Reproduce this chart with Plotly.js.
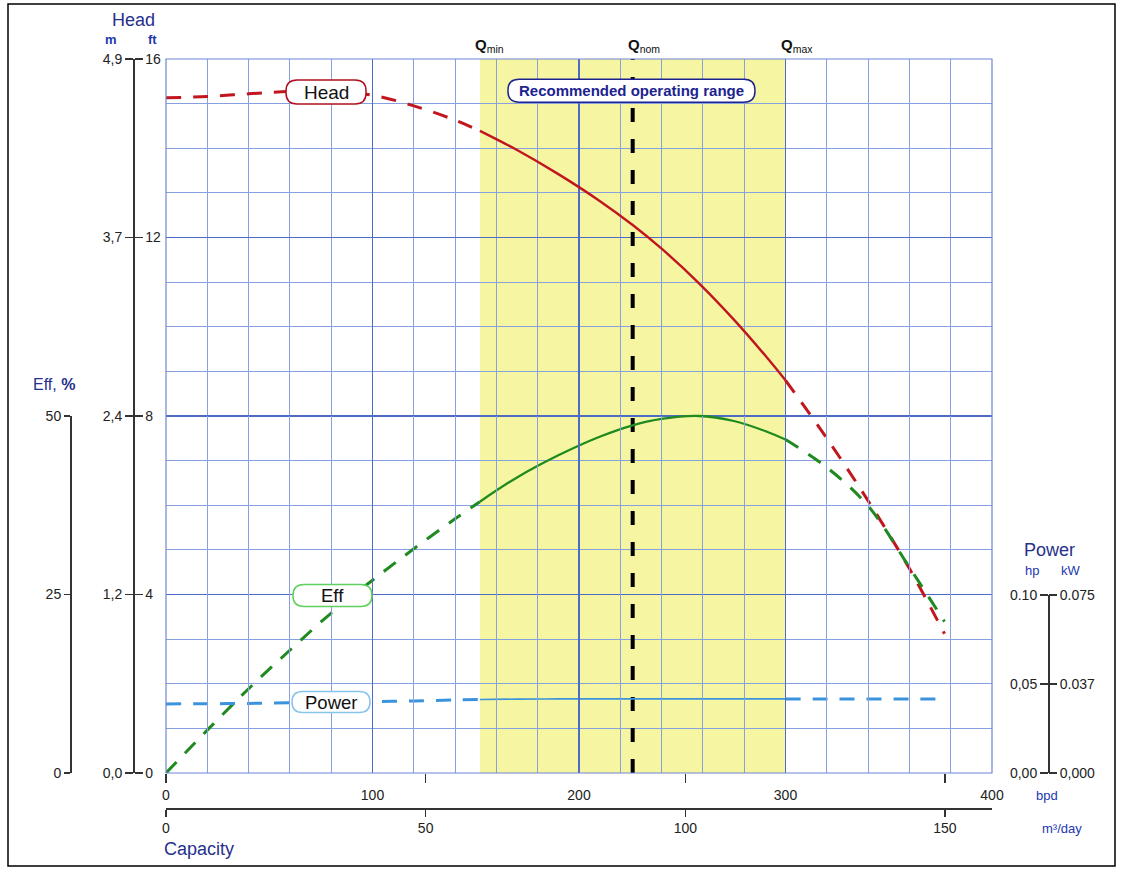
<!DOCTYPE html>
<html>
<head>
<meta charset="utf-8">
<script src="https://cdn.plot.ly/plotly-3.0.1.min.js"></script>
<style>html,body{margin:0;padding:0;background:#fff;}#chart{width:1123px;height:869px;}</style>
</head>
<body>
<div id="chart"></div>
<script>
// ---- data ----
const capacityBpd = [0,20,40,60,80,100,120,140,152,170,190,210,226,240,258,275,291,300,320,340,360,377];
const headFt      = [15.13,15.16,15.22,15.27,15.27,15.19,14.95,14.63,14.39,13.96,13.42,12.82,12.28,11.75,10.98,10.16,9.31,8.80,7.50,6.10,4.58,3.12];
const effPct      = [0,6.0,11.8,17.2,22.4,27.0,31.4,35.6,38.0,41.4,44.5,47.1,48.7,49.6,50.0,49.3,47.8,46.7,42.8,37.4,28.8,21.2];
const powerHp     = [0.0387,0.0388,0.0390,0.0393,0.0396,0.0400,0.0404,0.0409,0.0412,0.0414,0.0415,0.0415,0.0415,0.0415,0.0415,0.0415,0.0415,0.0415,0.0415,0.0415,0.0415,0.0415];
const Q_MIN = 152, Q_NOM = 226, Q_MAX = 300;
const bpdTicks = [0,100,200,300,400];
const m3Ticks = [0,50,100,150];
const ftTicks = [0,4,8,12,16];
const mTickText = ['0,0','1,2','2,4','3,7','4,9'];
const effTicks = [0,25,50];
const hpTicks = [0,0.05,0.10];
const hpTickText = ['0,00','0,05','0.10'];
const kwTickText = ['0,000','0.037','0.075'];

// ---- unit conversions ----
const FT_TO_M = 0.3048, HP_TO_KW = 0.7457;
const BPD_MAX = 400, M3_MAX = 159.06; // m3/day scale as drawn on the chart
const FT_MAX = 16, EFF_FULL = 100, HP_FULL = 0.4;

// ---- page geometry ----
const L = 20, R = 20, T = 59, B = 9, WID = 1123, HGT = 869;
const PW = WID - L - R, PH = HGT - T - B;
const px = v => (v - L) / PW;
const py = v => (HGT - B - v) / PH;

const FONT = 'Liberation Sans, Arial, Helvetica, sans-serif';
const RED = '#c2161f', GREEN = '#1f8a1f', BLUE = '#3b93db';

function seg(xs, ys, lo, hi) {
  const x = [], y = [];
  xs.forEach((v, i) => { if (v >= lo && v <= hi) { x.push(v); y.push(ys[i]); } });
  return {x, y};
}
function curve(ys, yaxis, color, name, solidW) {
  const out = [];
  const parts = [[-Infinity, Q_MIN, 'dash'], [Q_MIN, Q_MAX, 'solid'], [Q_MAX, Infinity, 'dash']];
  parts.forEach(([lo, hi, kind]) => {
    const s = seg(capacityBpd, ys, lo, hi);
    out.push({
      type: 'scatter', mode: 'lines', x: s.x, y: s.y, xaxis: 'x', yaxis: yaxis,
      name: name, showlegend: false, hoverinfo: 'skip',
      line: {color: color, width: kind === 'solid' ? solidW : 3, shape: 'spline', smoothing: 1,
             dash: kind === 'solid' ? 'solid' : '15px,12px'}
    });
  });
  return out;
}
const empty = (xa, ya) => ({type: 'scatter', mode: 'lines', x: [], y: [], xaxis: xa, yaxis: ya, showlegend: false, hoverinfo: 'skip'});

const traces = [
  ...curve(powerHp, 'y7', BLUE, 'Power', 1.6),
  ...curve(effPct, 'y3', GREEN, 'Eff', 2.3),
  ...curve(headFt, 'y', RED, 'Head', 2.4),
  {type: 'scatter', mode: 'lines', x: [Q_NOM, Q_NOM], y: [0, FT_MAX], xaxis: 'x', yaxis: 'y',
   showlegend: false, hoverinfo: 'skip', line: {color: '#000', width: 4, dash: '14px,17px'}},
  // empty traces so the display-only axes get drawn
  empty('x', 'y2'), empty('x', 'y4'), empty('x', 'y5'), empty('x', 'y6'), empty('x2', 'y'), empty('x3', 'y')
];

// rounded label boxes (pixel-sized, anchored at data positions)
function pill(cx, cy, w, h, color) {
  const a = w / 2, b = h / 2, r = Math.min(b, 11);
  const p = `M ${-a + r},${-b} L ${a - r},${-b} Q ${a},${-b} ${a},${-b + r} L ${a},${b - r} Q ${a},${b} ${a - r},${b} ` +
            `L ${-a + r},${b} Q ${-a},${b} ${-a},${b - r} L ${-a},${-b + r} Q ${-a},${-b} ${-a + r},${-b} Z`;
  return {type: 'path', xref: 'x', yref: 'y', xsizemode: 'pixel', ysizemode: 'pixel',
          xanchor: cx, yanchor: cy, path: p, fillcolor: '#fff', line: {color: color, width: 1.5}, layer: 'above'};
}

const shapes = [
  {type: 'rect', xref: 'x', yref: 'y', x0: Q_MIN, x1: Q_MAX, y0: 0, y1: FT_MAX,
   fillcolor: '#f6f6a2', line: {width: 0}, layer: 'below'},
  {type: 'rect', xref: 'x domain', yref: 'y domain', x0: 0, x1: 1, y0: 0, y1: 1,
   line: {color: '#6f86d4', width: 1.2}, layer: 'above'},
  pill(77.5, 15.26, 80, 24, '#b01020'),
  pill(80.6, 3.98, 79, 22, '#5fd05f'),
  pill(79.9, 1.59, 78, 21, '#86c4ec'),
  pill(225.4, 15.29, 247, 23, '#1c2390'),
  {type: 'rect', xref: 'paper', yref: 'paper', x0: px(8), x1: px(1115), y0: py(866), y1: py(4),
   line: {color: '#000', width: 1.5}, layer: 'above'}
];

function ann(text, x, y, opt) {
  return Object.assign({text: text, x: px(x), y: py(y), xref: 'paper', yref: 'paper', showarrow: false,
    xanchor: 'center', yanchor: 'middle', font: {family: FONT, size: 13, color: '#222'}}, opt || {});
}
const TITLE = '#26308c', UNIT = '#2238b0';
const annotations = [
  ann('Head', 133, 20, {font: {family: FONT, size: 18, color: TITLE}}),
  ann('<b>m</b>', 111, 40, {font: {family: FONT, size: 13, color: UNIT}}),
  ann('<b>ft</b>', 152, 40, {font: {family: FONT, size: 13, color: UNIT}}),
  ann('Eff, <b>%</b>', 54, 384, {font: {family: FONT, size: 16, color: TITLE}}),
  ann('Power', 1049, 550, {font: {family: FONT, size: 18, color: TITLE}}),
  ann('hp', 1032, 570, {font: {family: FONT, size: 13, color: UNIT}}),
  ann('kW', 1071, 570, {font: {family: FONT, size: 13, color: UNIT}}),
  ann('Capacity', 162, 849, {xanchor: 'left', font: {family: FONT, size: 18, color: TITLE}}),
  ann('bpd', 1047, 795, {font: {family: FONT, size: 13, color: UNIT}}),
  ann('m³/day', 1062, 828, {font: {family: FONT, size: 13, color: UNIT}}),
  // labels on the plot
  {text: 'Head', x: 77.5, y: 15.26, xref: 'x', yref: 'y', showarrow: false, font: {family: FONT, size: 19, color: '#111'}},
  {text: 'Eff', x: 80.6, y: 3.98, xref: 'x', yref: 'y', showarrow: false, font: {family: FONT, size: 18.5, color: '#111'}},
  {text: 'Power', x: 79.9, y: 1.59, xref: 'x', yref: 'y', showarrow: false, font: {family: FONT, size: 18.5, color: '#111'}},
  {text: '<b>Recommended operating range</b>', x: 225.4, y: 15.29, xref: 'x', yref: 'y', showarrow: false,
   font: {family: FONT, size: 15, color: '#1c2390'}},
  ...[['min', Q_MIN], ['nom', Q_NOM], ['max', Q_MAX]].map(([s, q]) => ({
    text: '<b>Q</b><sub>' + s + '</sub>', x: q, y: py(46), xref: 'x', yref: 'paper', showarrow: false,
    xanchor: 'left', yanchor: 'middle', xshift: -7, font: {family: FONT, size: 15, color: '#111'}}))
];

const axisLine = {showline: true, linecolor: '#333', linewidth: 1.5, ticks: 'outside', tickcolor: '#333',
                  tickwidth: 1.5, showgrid: false, zeroline: false, fixedrange: true,
                  tickfont: {family: FONT, size: 14, color: '#222'}};
const X0 = px(166), X1 = px(992), Y0 = py(773);

const layout = {
  width: WID, height: HGT, margin: {l: L, r: R, t: T, b: B, pad: 0},
  paper_bgcolor: '#fff', plot_bgcolor: 'rgba(0,0,0,0)', showlegend: false, hovermode: false,
  font: {family: FONT},
  xaxis: {domain: [X0, X1], range: [0, BPD_MAX], tickvals: bpdTicks, ticks: '', showline: false,
          showgrid: true, gridcolor: '#4d6cc6', gridwidth: 1.2, zeroline: false, fixedrange: true,
          minor: {dtick: 20, tick0: 0, showgrid: true, gridcolor: '#86a0e0', gridwidth: 1, ticks: ''},
          ticklabelstandoff: 12, tickfont: {family: FONT, size: 14, color: '#222'}},
  xaxis2: Object.assign({}, axisLine, {overlaying: 'x', anchor: 'free', position: py(808), side: 'bottom',
          range: [0, M3_MAX], tickvals: m3Ticks, ticklen: 7}),
  xaxis3: Object.assign({}, axisLine, {overlaying: 'x', anchor: 'y', side: 'bottom', showline: false,
          range: [0, M3_MAX], tickvals: m3Ticks, ticklen: 9, showticklabels: false}),
  yaxis: Object.assign({}, axisLine, {domain: [Y0, 1], range: [0, FT_MAX], anchor: 'free', position: px(133),
          side: 'right', tickvals: ftTicks, ticklen: 8, showgrid: true, gridcolor: '#4d6cc6', gridwidth: 1.2,
          minor: {dtick: 1, tick0: 0, showgrid: true, gridcolor: '#86a0e0', gridwidth: 1, ticks: ''}}),
  yaxis4: Object.assign({}, axisLine, {overlaying: 'y', anchor: 'free', position: px(133), side: 'left',
          range: [0, FT_MAX * FT_TO_M], tickvals: ftTicks.map(v => v * FT_TO_M), ticktext: mTickText,
          ticklen: 8, showline: false}),
  yaxis2: Object.assign({}, axisLine, {domain: [Y0, py(416)], range: [0, 50], anchor: 'free', position: px(70),
          side: 'left', tickvals: effTicks, ticklen: 6}),
  yaxis3: {overlaying: 'y', range: [0, EFF_FULL], visible: false, fixedrange: true},
  yaxis5: Object.assign({}, axisLine, {domain: [Y0, py(595)], range: [0, 0.1], anchor: 'free', position: px(1048),
          side: 'left', tickvals: hpTicks, ticktext: hpTickText, ticklen: 8}),
  yaxis6: Object.assign({}, axisLine, {overlaying: 'y5', anchor: 'free', position: px(1048), side: 'right',
          range: [0, 0.1 * HP_TO_KW], tickvals: hpTicks.map(v => v * HP_TO_KW), ticktext: kwTickText,
          ticklen: 8, showline: false}),
  yaxis7: {overlaying: 'y', range: [0, HP_FULL], visible: false, fixedrange: true},
  shapes: shapes,
  annotations: annotations
};

Plotly.newPlot('chart', traces, layout, {staticPlot: true, displayModeBar: false});
</script>
</body>
</html>
